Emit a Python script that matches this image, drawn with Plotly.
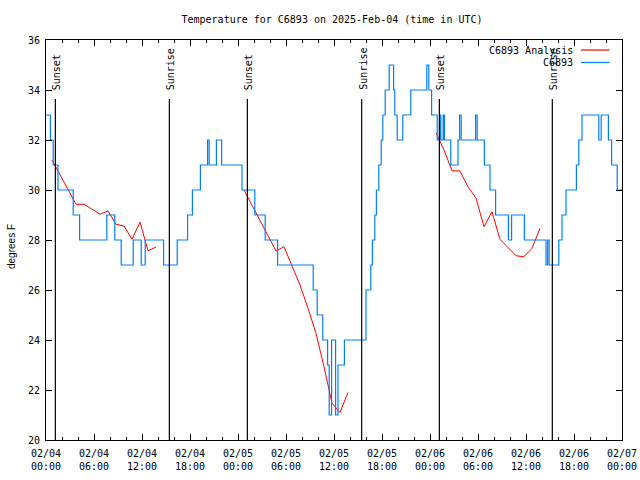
import plotly.graph_objects as go

# Hours since 2025-02-04 00:00 UTC
obs_hours = [0, 0.55, 0.9, 1.5, 3.4, 4.2, 7.6, 8.6, 9.4, 10.9, 11.9, 12.4, 14.7, 16.4,
             17.7, 18.3, 19.3, 20.2, 20.4, 21.3, 21.95, 24.5, 26.1, 27.4, 28.95,
             33.4, 33.9, 34.6, 35.2, 35.4, 35.7, 36.2, 36.5, 37.3,
             40.0, 40.6, 40.8, 41.1, 41.3, 41.6, 41.9, 42.1, 42.4, 42.9, 43.45, 43.6, 43.9,
             44.6, 45.6, 47.6, 47.85, 48.2, 48.9, 49.2, 49.35, 49.65, 49.8, 50.6, 51.5,
             51.7, 51.9, 53.7, 53.9, 54.8, 55.5, 56.2, 57.8, 58.2, 59.8, 62.5, 62.7, 62.9,
             64.1, 64.5, 65.0, 66.3, 66.6, 67.0, 69.1, 69.4, 70.3, 70.7, 71.4, 72.0]
obs_temps = [33, 32, 31, 30, 29, 28, 29, 28, 27, 28, 27, 28, 27, 28,
             29, 30, 31, 32, 31, 32, 31, 30, 29, 28, 27,
             26, 25, 24, 23, 21, 24, 21, 23, 24,
             26, 27, 28, 29, 30, 31, 32, 33, 34, 35, 34, 33, 32,
             33, 34, 35, 34, 33, 32, 33, 32, 33, 32, 31, 32,
             33, 32, 33, 32, 31, 30, 29, 28, 29, 28, 27, 28, 27,
             28, 29, 30, 31, 32, 33, 32, 33, 32, 31, 30, 30]

ana_hours_1 = [0.75, 1.75, 2.75, 3.75, 4.75, 5.75, 6.75, 7.75, 8.75, 9.75, 10.75, 11.75, 12.75, 13.75]
ana_temps_1 = [31.2, 30.63, 30.03, 29.43, 29.43, 29.23, 29.03, 29.16, 28.63, 28.56, 28.03, 28.72, 27.57, 27.72]
ana_hours_2 = [24.75, 25.75, 26.75, 27.75, 28.75, 29.75, 30.75, 31.75, 32.75, 33.75, 34.75, 35.75, 36.75, 37.75]
ana_temps_2 = [30.0, 29.4, 28.8, 28.2, 27.56, 27.73, 27.0, 26.2, 25.27, 24.27, 22.93, 21.47, 21.1, 21.9]
ana_hours_3 = [48.75, 49.75, 50.75, 51.75, 52.75, 53.75, 54.75, 55.75, 56.75, 57.75, 58.75, 59.75, 60.75, 61.75]
ana_temps_3 = [32.3, 31.6, 30.77, 30.76, 30.13, 29.67, 28.53, 29.13, 28.03, 27.7, 27.37, 27.33, 27.67, 28.47]

sun_hours = [1.17, 15.42, 25.17, 39.46, 49.17, 63.29]
sun_labels = ["Sunset", "Sunrise", "Sunset", "Sunrise", "Sunset", "Sunrise"]

tick_hours = [0, 6, 12, 18, 24, 30, 36, 42, 48, 54, 60, 66, 72]
tick_labels = ["02/04<br>00:00", "02/04<br>06:00", "02/04<br>12:00", "02/04<br>18:00",
               "02/05<br>00:00", "02/05<br>06:00", "02/05<br>12:00", "02/05<br>18:00",
               "02/06<br>00:00", "02/06<br>06:00", "02/06<br>12:00", "02/06<br>18:00",
               "02/07<br>00:00"]
minor_hours = list(range(0, 73, 2))

RED = "#ff0000"
BLUE = "#0080ff"
MONO = "DejaVu Sans Mono"

fig = go.Figure()
ana_x = ana_hours_1 + [None] + ana_hours_2 + [None] + ana_hours_3
ana_y = ana_temps_1 + [None] + ana_temps_2 + [None] + ana_temps_3
fig.add_trace(go.Scatter(x=ana_x, y=ana_y, mode="lines", line=dict(color=RED, width=1),
                         connectgaps=False, showlegend=False, name="C6893 Analysis"))
fig.add_trace(go.Scatter(x=obs_hours, y=obs_temps, mode="lines",
                         line=dict(color=BLUE, width=1.2, shape="hv"), showlegend=False, name="C6893"))

shapes = []
annotations = []
for h, lab in zip(sun_hours, sun_labels):
    shapes.append(dict(type="line", xref="x", yref="paper", x0=h, x1=h, y0=0, y1=0.8525,
                       line=dict(color="black", width=1.2)))
    annotations.append(dict(x=h, y=0.87, xref="x", yref="paper", text=lab, textangle=-90,
                            showarrow=False, xanchor="center", yanchor="bottom", xshift=1,
                            font=dict(family=MONO, size=10, color="black")))

# manual legend
leg_items = [("C6893 Analysis", RED, 50), ("C6893", BLUE, 62.5)]
for txt, col, ypx in leg_items:
    yp = (440 - ypx) / 400
    annotations.append(dict(x=(575 - 46) / 576, y=yp, xref="paper", yref="paper", text=txt,
                            showarrow=False, xanchor="right", yanchor="middle",
                            font=dict(family=MONO, size=10, color="black")))
    shapes.append(dict(type="line", xref="paper", yref="paper", x0=(581 - 46) / 576,
                       x1=(609.5 - 46) / 576, y0=yp, y1=yp, line=dict(color=col, width=1.2)))

annotations.append(dict(x=(11 - 46) / 576, y=(440 - 247) / 400, xref="paper", yref="paper",
                        text="degrees F", textangle=-90, showarrow=False,
                        xanchor="center", yanchor="middle",
                        font=dict(family="Liberation Sans", size=10, color="black")))

fig.update_layout(
    width=640, height=480,
    margin=dict(l=46, r=18, t=40, b=40, autoexpand=False),
    paper_bgcolor="white", plot_bgcolor="white",
    title=dict(text="Temperature for C6893 on 2025-Feb-04 (time in UTC)", x=(332) / 640,
               xanchor="center", y=1 - 19 / 480, yanchor="middle", yref="container",
               font=dict(family=MONO, size=10, color="black")),
    shapes=shapes, annotations=annotations,
    xaxis=dict(range=[0, 72], tickmode="array", tickvals=tick_hours, ticktext=tick_labels,
               ticks="inside", ticklen=6, tickcolor="black", showline=True, linecolor="black",
               linewidth=1, mirror="ticks", showgrid=False, zeroline=False, automargin=False,
               ticklabelstandoff=4,
               tickfont=dict(family=MONO, size=10, color="black"),
               minor=dict(tickmode="array", tickvals=minor_hours, ticks="inside", ticklen=3,
                          tickcolor="black", showgrid=False)),
    yaxis=dict(range=[20, 36], tickmode="linear", tick0=20, dtick=2,
               ticks="inside", ticklen=6, tickcolor="black", showline=True, linecolor="black",
               linewidth=1, mirror="ticks", showgrid=False, zeroline=False, automargin=False,
               ticklabelstandoff=3,
               tickfont=dict(family=MONO, size=10, color="black")),
)

fig.write_html("out.html", config={"displayModeBar": False},
               post_script="document.body.style.margin='0';document.body.style.overflow='hidden';")
